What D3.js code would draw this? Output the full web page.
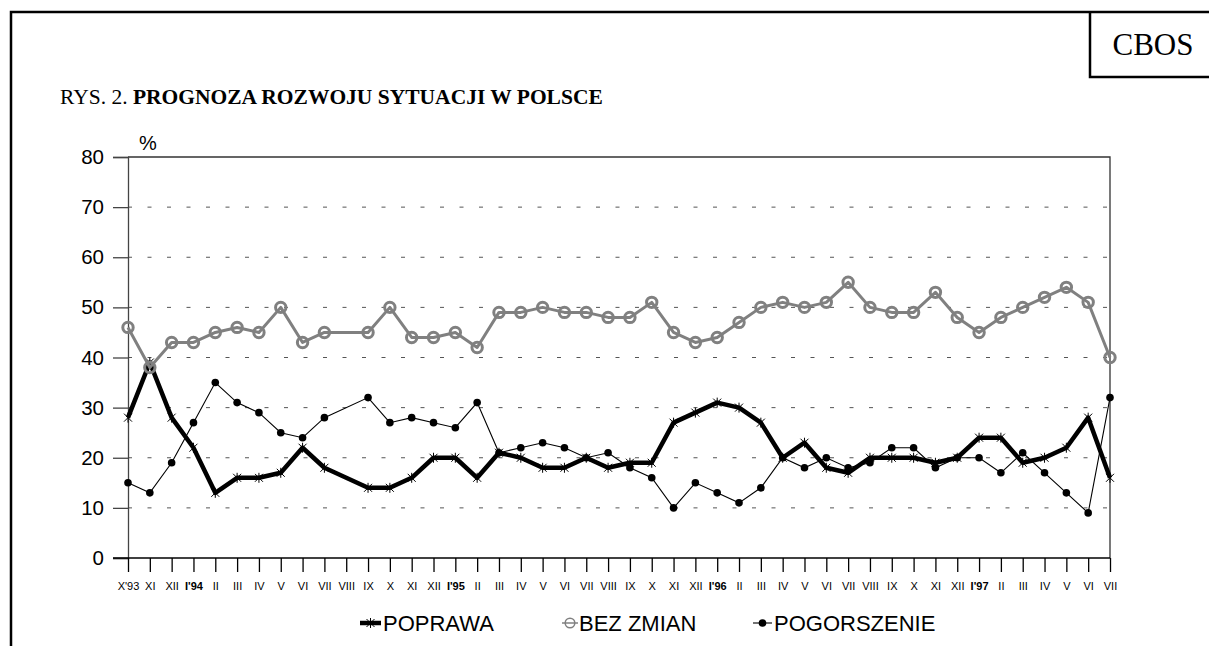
<!DOCTYPE html>
<html><head><meta charset="utf-8">
<script src="https://cdn.jsdelivr.net/npm/d3@7"></script>
<style>
html,body{margin:0;padding:0;background:#fff;}
svg{display:block;}
</style></head>
<body>
<svg id="chart" width="1209" height="646"></svg>
<script>
const categories = ["X'93","XI","XII","I'94","II","III","IV","V","VI","VII","VIII","IX","X","XI","XII",
  "I'95","II","III","IV","V","VI","VII","VIII","IX","X","XI","XII",
  "I'96","II","III","IV","V","VI","VII","VIII","IX","X","XI","XII",
  "I'97","II","III","IV","V","VI","VII"];
const poprawa = [28,39,28,22,13,16,16,17,22,18,null,14,14,16,20,
  20,16,21,20,18,18,20,18,19,19,27,29,
  31,30,27,20,23,18,17,20,20,20,19,20,
  24,24,19,20,22,28,16];
const bezZmian = [46,38,43,43,45,46,45,50,43,45,null,45,50,44,44,
  45,42,49,49,50,49,49,48,48,51,45,43,
  44,47,50,51,50,51,55,50,49,49,53,48,
  45,48,50,52,54,51,40];
const pogorszenie = [15,13,19,27,35,31,29,25,24,28,null,32,27,28,27,
  26,31,21,22,23,22,20,21,18,16,10,15,
  13,11,14,20,18,20,18,19,22,22,18,20,
  20,17,21,17,13,9,32];
const yTicks = [0,10,20,30,40,50,60,70,80];
const seriesNames = ["POPRAWA","BEZ ZMIAN","POGORSZENIE"];

(function(){
const svg = d3.select("#chart");
const pLeft = 128, pRight = 1110, pTop = 157, pBottom = 558;

const x = d3.scalePoint().domain(d3.range(categories.length)).range([pLeft, pRight]);
const y = d3.scaleLinear().domain([0, 80]).range([pBottom, pTop]);

// outer frame
svg.append("path").attr("d", `M11,650 L11,12 L1215,12`).attr("fill","none").attr("stroke","#000").attr("stroke-width",2.5);
svg.append("path").attr("d", `M1090,12 L1090,77 L1215,77`).attr("fill","none").attr("stroke","#000").attr("stroke-width",2.5);
svg.append("text").attr("x",1153).attr("y",55).attr("text-anchor","middle")
  .attr("font-family","Liberation Serif, Times New Roman, serif").attr("font-size",31).text("CBOS");

// title
const title = svg.append("text").attr("x",60).attr("y",104)
  .attr("font-family","Liberation Serif, Times New Roman, serif").attr("font-size",21.5);
title.append("tspan").text("RYS. 2. ");
title.append("tspan").attr("font-weight","bold").text("PROGNOZA ROZWOJU SYTUACJI W POLSCE");

// gridlines
svg.append("g").selectAll("line").data(yTicks.filter(d => d > 0 && d < 80)).join("line")
  .attr("x1", pLeft).attr("x2", pRight).attr("y1", d => y(d)).attr("y2", d => y(d))
  .attr("stroke","#555").attr("stroke-width",1).attr("stroke-dasharray","4,15.5");
// top & right border
svg.append("path").attr("d", `M${pLeft},${y(80)} L${pRight},${y(80)} L${pRight},${y(0)}`)
  .attr("fill","none").attr("stroke","#333").attr("stroke-width",1.3);

// y axis
const yAxis = svg.append("g").attr("transform",`translate(${pLeft},0)`)
  .call(d3.axisLeft(y).tickValues(yTicks).tickSize(15).tickPadding(9).tickFormat(d3.format("d")));
yAxis.select(".domain").attr("stroke","#444").attr("stroke-width",1.3);
yAxis.selectAll(".tick line").attr("stroke","#444").attr("stroke-width",1.3);
yAxis.selectAll("text").attr("font-family","Liberation Sans, Arial, sans-serif").attr("font-size",20.5).attr("fill","#000");

// x axis
const xAxis = svg.append("g").attr("transform",`translate(0,${pBottom})`)
  .call(d3.axisBottom(x).tickSize(14).tickPadding(10).tickFormat(i => categories[i]));
xAxis.select(".domain").remove();
xAxis.selectAll(".tick line").attr("stroke","#000").attr("stroke-width",1.3);
xAxis.selectAll("text").attr("font-family","Liberation Sans, Arial, sans-serif").attr("font-size",11).attr("fill","#000")
  .attr("font-weight", i => categories[i].startsWith("I'") ? "bold" : "normal");
svg.append("line").attr("x1",113).attr("x2",pRight).attr("y1",pBottom).attr("y2",pBottom)
  .attr("stroke","#000").attr("stroke-width",1.3);

svg.append("text").attr("x",139).attr("y",150).attr("font-family","Liberation Sans, Arial, sans-serif")
  .attr("font-size",20).text("%");

// series
const pts = arr => arr.map((v,i)=>({i,v})).filter(d => d.v !== null);
const line = d3.line().x(d => x(d.i)).y(d => y(d.v));
const starPath = "M-4,-4L4,4M-4,4L4,-4M0,-5L0,5";

// POPRAWA
svg.append("path").datum(pts(poprawa)).attr("d", line).attr("fill","none")
  .attr("stroke","#000").attr("stroke-width",4.5).attr("stroke-linejoin","round");
svg.append("g").selectAll("path").data(pts(poprawa)).join("path")
  .attr("transform", d => `translate(${x(d.i)},${y(d.v)})`).attr("d", starPath)
  .attr("stroke","#000").attr("stroke-width",1).attr("fill","none");

// BEZ ZMIAN
svg.append("path").datum(pts(bezZmian)).attr("d", line).attr("fill","none")
  .attr("stroke","#808080").attr("stroke-width",3).attr("stroke-linejoin","round");
svg.append("g").selectAll("circle").data(pts(bezZmian)).join("circle")
  .attr("cx", d => x(d.i)).attr("cy", d => y(d.v)).attr("r",5.2)
  .attr("fill","none").attr("stroke","#808080").attr("stroke-width",3);

// POGORSZENIE
svg.append("path").datum(pts(pogorszenie)).attr("d", line).attr("fill","none")
  .attr("stroke","#000").attr("stroke-width",1.1);
svg.append("g").selectAll("circle").data(pts(pogorszenie)).join("circle")
  .attr("cx", d => x(d.i)).attr("cy", d => y(d.v)).attr("r",3.8).attr("fill","#000");

// legend
const ly = 623;
const lg = svg.append("g");
const legendFont = g => g.attr("font-family","Liberation Sans, Arial, sans-serif").attr("font-size",22).attr("fill","#000");
lg.append("line").attr("x1",360).attr("x2",381).attr("y1",ly).attr("y2",ly).attr("stroke","#000").attr("stroke-width",4.5);
lg.append("path").attr("transform",`translate(370.5,${ly})`).attr("d",starPath).attr("stroke","#000").attr("stroke-width",1);
lg.append("text").attr("x",383).attr("y",ly+8).call(legendFont).text(seriesNames[0]);
lg.append("line").attr("x1",562).attr("x2",578).attr("y1",ly).attr("y2",ly).attr("stroke","#808080").attr("stroke-width",1.5);
lg.append("circle").attr("cx",570).attr("cy",ly).attr("r",4.8).attr("fill","none").attr("stroke","#808080").attr("stroke-width",1.5);
lg.append("text").attr("x",579).attr("y",ly+8).call(legendFont).text(seriesNames[1]);
lg.append("line").attr("x1",753).attr("x2",772).attr("y1",ly).attr("y2",ly).attr("stroke","#000").attr("stroke-width",1.1);
lg.append("circle").attr("cx",762.5).attr("cy",ly).attr("r",3.8).attr("fill","#000");
lg.append("text").attr("x",774).attr("y",ly+8).call(legendFont).text(seriesNames[2]);
})();
</script>
</body></html>
